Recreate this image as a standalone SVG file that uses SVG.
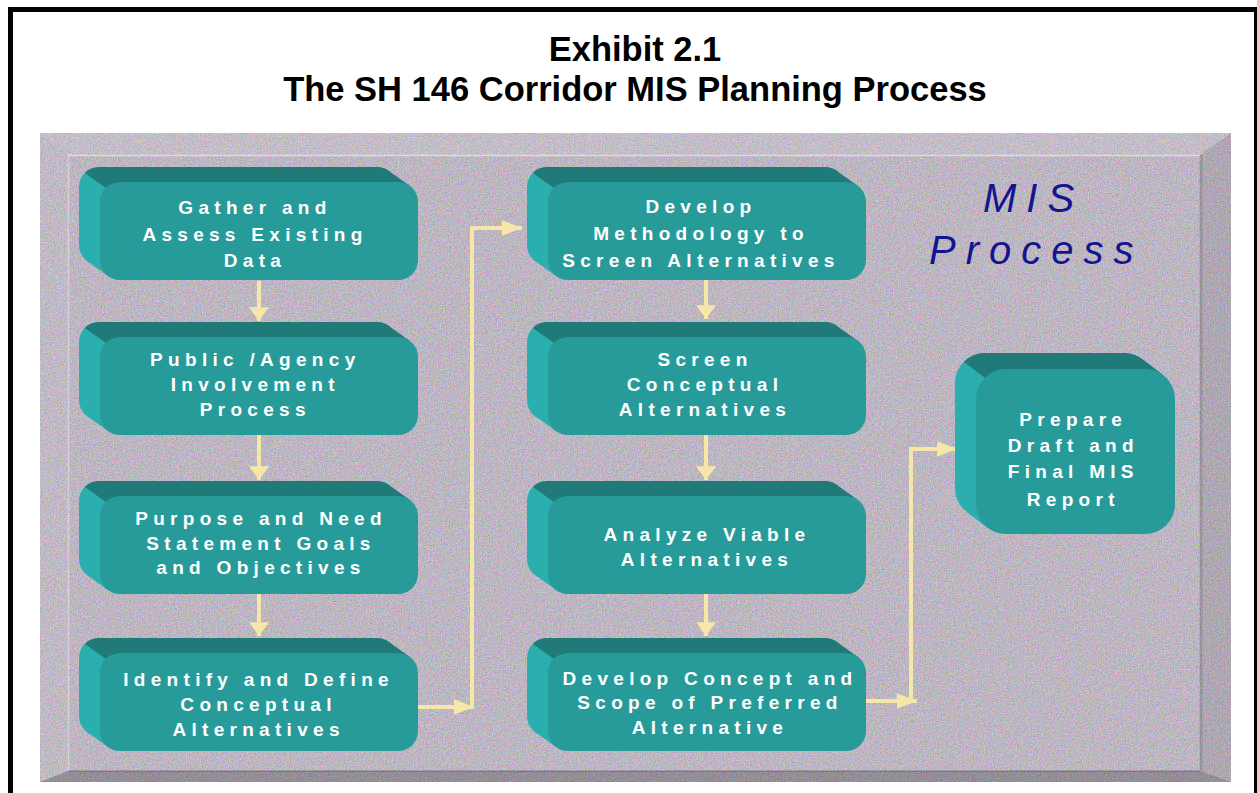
<svg xmlns="http://www.w3.org/2000/svg" xmlns:xlink="http://www.w3.org/1999/xlink" width="1257" height="793" viewBox="0 0 1257 793">
<defs>
<filter id="noise" x="0" y="0" width="100%" height="100%" color-interpolation-filters="sRGB">
<feTurbulence type="fractalNoise" baseFrequency="0.75" numOctaves="2" seed="7" result="t"/>
<feColorMatrix in="t" type="matrix" values="1.8 0 0 0 -0.4  0 1.8 0 0 -0.4  0 0 1.8 0 -0.4  0 0 0 0 0.25"/>
</filter>
<g id="boxShape">
<rect x="-21" y="-15" width="318" height="98" rx="20" class="side"/>
<polygon points="-12.6,79.3 8.4,94.3 20,78 -1,63" class="side"/>
<path d="M -15.1,-9.1 A 20 20 0 0 1 -1,-15 L 277,-15 A 20 20 0 0 1 288.6,-11.3 L 309.6,3.7 L 20,20 L 5.9,5.9 Z" class="top"/>
<rect x="0" y="0" width="318" height="98" rx="20" class="front"/>
</g>
<g id="bigShape">
<rect x="-21" y="-16" width="199" height="165" rx="30" class="side"/>
<polygon points="-9.2,142.9 11.8,158.9 30,135 9,119" class="side"/>
<path d="M -12.2,-7.2 A 30 30 0 0 1 9,-16 L 148,-16 A 30 30 0 0 1 166.2,-9.9 L 187.2,6.1 L 30,30 L 8.8,8.8 Z" class="top"/>
<rect x="0" y="0" width="199" height="165" rx="30" class="front"/>
</g>
<marker id="headV" markerUnits="userSpaceOnUse" markerWidth="20" markerHeight="20" viewBox="0 0 13 19" refX="13" refY="9.5" orient="auto">
<path d="M0,0 L13,9.5 L0,19 Z" fill="#f6e6a8"/>
</marker>
<marker id="headH" markerUnits="userSpaceOnUse" markerWidth="20" markerHeight="20" viewBox="0 0 18 14" refX="18" refY="7" orient="auto">
<path d="M0,0 L18,7 L0,14 Z" fill="#f6e6a8"/>
</marker>
</defs>
<style>
.side{fill:#2aafae}
.top{fill:#1f7a78}
.front{fill:#279b9a}
.lbl{font-family:"Liberation Sans",Arial,sans-serif;font-weight:bold;font-size:19px;letter-spacing:5.3px;fill:#ffffff;text-anchor:middle}
.title{font-family:"Liberation Sans",Arial,sans-serif;font-weight:bold;font-size:34.5px;fill:#000;text-anchor:middle}
.mis{font-family:"Liberation Sans",Arial,sans-serif;font-style:italic;font-size:40px;letter-spacing:10px;fill:#14148f}
.conn{fill:none;stroke:#f6e6a8;stroke-width:4}
</style>

<rect x="0" y="0" width="1257" height="793" fill="#ffffff"/>
<g id="frame" fill="#000">
<rect x="8" y="7" width="1249" height="5"/>
<rect x="8" y="7" width="5" height="786"/>
<rect x="1254" y="7" width="3" height="786"/>
</g>

<g id="title">
<text class="title" x="635" y="61">Exhibit 2.1</text>
<text class="title" x="635" y="101">The SH 146 Corridor MIS Planning Process</text>
</g>

<g id="panel">
<rect x="40" y="133" width="1191" height="649" fill="#d2c8d8"/>
<rect x="40" y="133" width="1191" height="649" fill="#fff" filter="url(#noise)"/>
<polygon points="40,133 1231,133 1200,155 68,155" fill="#ffffff" opacity="0.1"/>
<polygon points="40,133 68,155 68,771 40,782" fill="#ffffff" opacity="0.05"/>
<polygon points="1231,133 1231,782 1200,771 1200,155" fill="#000000" opacity="0.08"/>
<polygon points="40,782 1231,782 1200,771 68,771" fill="#000000" opacity="0.22"/>
<line x1="68" y1="155.5" x2="1200" y2="155.5" stroke="#ffffff" stroke-opacity="0.5" stroke-width="1.5"/>
<line x1="68.5" y1="155" x2="68.5" y2="771" stroke="#ffffff" stroke-opacity="0.35" stroke-width="1.5"/>
<line x1="1201" y1="155" x2="1201" y2="771" stroke="#000" stroke-opacity="0.12" stroke-width="3"/>
<line x1="68" y1="771" x2="1200" y2="771" stroke="#000" stroke-opacity="0.2" stroke-width="1.5"/>
</g>

<g id="mis-label">
<text class="mis" x="983" y="212">MIS</text>
<text class="mis" x="929" y="264">Process</text>
</g>

<g id="connectors">
<line class="conn" x1="259" y1="281" x2="259" y2="321" marker-end="url(#headV)"/>
<line class="conn" x1="259" y1="435" x2="259" y2="480" marker-end="url(#headV)"/>
<line class="conn" x1="259" y1="594" x2="259" y2="636" marker-end="url(#headV)"/>
<line class="conn" x1="706" y1="280" x2="706" y2="319" marker-end="url(#headV)"/>
<line class="conn" x1="706" y1="435" x2="706" y2="480" marker-end="url(#headV)"/>
<line class="conn" x1="706" y1="594" x2="706" y2="636" marker-end="url(#headV)"/>
<line class="conn" x1="418" y1="707" x2="474" y2="707" marker-end="url(#headH)"/>
<polyline class="conn" points="472,707 472,228 522,228" marker-end="url(#headH)"/>
<line class="conn" x1="866" y1="701" x2="917" y2="701" marker-end="url(#headH)"/>
<polyline class="conn" points="911,701 911,449 957,449" marker-end="url(#headH)"/>
</g>

<g id="n1">
<use xlink:href="#boxShape" href="#boxShape" transform="translate(100,182)"/>
<text class="lbl" x="255" y="214">Gather and</text>
<text class="lbl" x="255" y="240.5">Assess Existing</text>
<text class="lbl" x="255" y="267">Data</text>
</g>
<g id="n2">
<use xlink:href="#boxShape" href="#boxShape" transform="translate(100,337)"/>
<text class="lbl" x="255.3" y="366">Public /Agency</text>
<text class="lbl" x="255.3" y="391">Involvement</text>
<text class="lbl" x="255.3" y="416">Process</text>
</g>
<g id="n3">
<use xlink:href="#boxShape" href="#boxShape" transform="translate(100,496)"/>
<text class="lbl" x="261" y="525">Purpose and Need</text>
<text class="lbl" x="261" y="550">Statement Goals</text>
<text class="lbl" x="261" y="574">and Objectives</text>
</g>
<g id="n4">
<use xlink:href="#boxShape" href="#boxShape" transform="translate(100,653)"/>
<text class="lbl" x="258.6" y="686">Identify and Define</text>
<text class="lbl" x="258.6" y="711">Conceptual</text>
<text class="lbl" x="258.6" y="736">Alternatives</text>
</g>
<g id="n5">
<use xlink:href="#boxShape" href="#boxShape" transform="translate(548,182)"/>
<text class="lbl" x="701" y="213.3">Develop</text>
<text class="lbl" x="701" y="240">Methodology to</text>
<text class="lbl" x="701" y="266.7">Screen Alternatives</text>
</g>
<g id="n6">
<use xlink:href="#boxShape" href="#boxShape" transform="translate(548,337)"/>
<text class="lbl" x="705" y="366">Screen</text>
<text class="lbl" x="705" y="391">Conceptual</text>
<text class="lbl" x="705" y="416">Alternatives</text>
</g>
<g id="n7">
<use xlink:href="#boxShape" href="#boxShape" transform="translate(548,496)"/>
<text class="lbl" x="707" y="541">Analyze Viable</text>
<text class="lbl" x="707" y="566">Alternatives</text>
</g>
<g id="n8">
<use xlink:href="#boxShape" href="#boxShape" transform="translate(548,653)"/>
<text class="lbl" x="710" y="685">Develop Concept and</text>
<text class="lbl" x="710" y="709">Scope of Preferred</text>
<text class="lbl" x="710" y="734">Alternative</text>
</g>
<g id="n9">
<use xlink:href="#bigShape" href="#bigShape" transform="translate(976,369)"/>
<text class="lbl" x="1073.3" y="425.7">Prepare</text>
<text class="lbl" x="1073.3" y="452">Draft and</text>
<text class="lbl" x="1073.3" y="478">Final MIS</text>
<text class="lbl" x="1073.3" y="505.7">Report</text>
</g>
</svg>
